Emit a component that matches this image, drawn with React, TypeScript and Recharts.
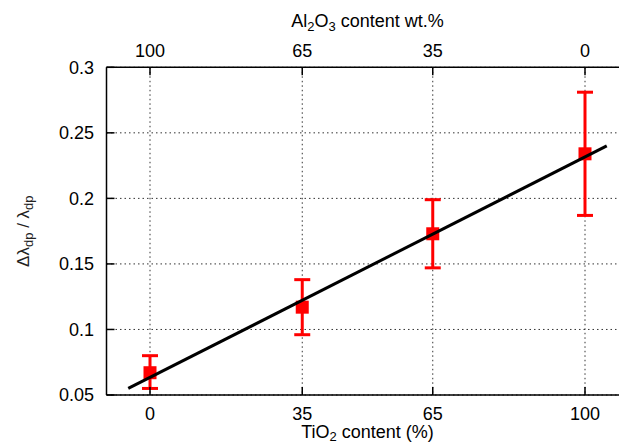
import React from "react";
import {
  ComposedChart,
  Scatter,
  ErrorBar,
  XAxis,
  YAxis,
  CartesianGrid,
} from "recharts";

// TiO2 content (%) and measured ratio with error limits
const tio2 = [0, 35, 65, 100];
const ratio = [0.067, 0.117, 0.173, 0.234];
const errLow = [0.055, 0.096, 0.147, 0.187];
const errHigh = [0.08, 0.138, 0.199, 0.281];

// linear fit end points
const fitX = [-5, 105];
const fitY = [0.055, 0.24];

const xTicks = [0, 35, 65, 100];
const topTickLabels = ["100", "65", "35", "0"];
const yTicks = [0.05, 0.1, 0.15, 0.2, 0.25, 0.3];

const points = tio2.map((x, i) => ({
  x,
  y: ratio[i],
  err: [ratio[i] - errLow[i], errHigh[i] - ratio[i]],
}));
const fit = fitX.map((x, i) => ({ x, y: fitY[i] }));

const font = "'Liberation Sans', Arial, sans-serif";
const tickStyle = { fontSize: 18, fill: "#000", fontFamily: font };

const Square = (props: any) => (
  <rect x={props.cx - 6.5} y={props.cy - 6.5} width={13} height={13} fill="#ff0000" />
);

export default function App() {
  return (
    <div style={{ position: "fixed", left: 0, top: 0, width: 619, height: 446, overflow: "hidden", background: "#fff" }}>
      <ComposedChart
        width={640}
        height={446}
        margin={{ top: 27.3, right: 11.5, bottom: 0, left: 6.5 }}
      >
        <CartesianGrid stroke="#333" strokeDasharray="1.5 3" strokeWidth={1} />
        <XAxis
          type="number"
          dataKey="x"
          domain={[-10, 110]}
          ticks={xTicks}
          height={51}
          tickSize={-8}
          tickMargin={20}
          tick={tickStyle}
          axisLine={{ stroke: "#000", strokeWidth: 1.5 }}
          tickLine={{ stroke: "#000", strokeWidth: 1.5 }}
          label={{
            content: (p: any) => (
              <text x={p.viewBox.x + p.viewBox.width / 2} y={p.viewBox.y + 43} textAnchor="middle" fontSize={18} fontFamily={font} fill="#000">
                TiO<tspan fontSize={13} dy={3}>2</tspan>
                <tspan dy={-3}> content (%)</tspan>
              </text>
            ),
          }}
        />
        <XAxis
          xAxisId="top"
          orientation="top"
          type="number"
          dataKey="x"
          domain={[-10, 110]}
          ticks={xTicks}
          tickFormatter={(v: number, i: number) => topTickLabels[i]}
          height={40}
          tickSize={-8}
          tickMargin={18.6}
          tick={tickStyle}
          axisLine={{ stroke: "#000", strokeWidth: 1.5 }}
          tickLine={{ stroke: "#000", strokeWidth: 1.5 }}
          label={{
            content: (p: any) => (
              <text x={p.viewBox.x + p.viewBox.width / 2} y={p.viewBox.y - 0.5} textAnchor="middle" fontSize={18} fontFamily={font} fill="#000">
                Al<tspan fontSize={13} dy={4}>2</tspan>
                <tspan dy={-4}>O</tspan>
                <tspan fontSize={13} dy={4}>3</tspan>
                <tspan dy={-4}> content wt.%</tspan>
              </text>
            ),
          }}
        />
        <YAxis
          type="number"
          domain={[0.05, 0.3]}
          ticks={yTicks}
          width={100}
          tickSize={-8}
          tickMargin={20.5}
          tick={tickStyle}
          axisLine={{ stroke: "#000", strokeWidth: 1.5 }}
          tickLine={{ stroke: "#000", strokeWidth: 1.5 }}
          label={{
            content: (p: any) => {
              const cx = p.viewBox.x + 23;
              const cy = p.viewBox.y + p.viewBox.height / 2;
              return (
                <text x={cx} y={cy} transform={`rotate(-90, ${cx}, ${cy})`} textAnchor="middle" fontSize={17} fontFamily={font} fill="#222">
                  Δλ<tspan fontSize={13} dy={4}>dp</tspan>
                  <tspan dy={-4}> / λ</tspan>
                  <tspan fontSize={13} dy={4}>dp</tspan>
                </text>
              );
            },
          }}
        />
        <Scatter data={points} dataKey="y" shape={<Square />} isAnimationActive={false}>
          <ErrorBar dataKey="err" direction="y" width={8} stroke="#ff0000" strokeWidth={3} />
        </Scatter>
        <Scatter
          data={fit}
          dataKey="y"
          xAxisId="top"
          line={{ stroke: "#000", strokeWidth: 3 }}
          shape={() => null}
          isAnimationActive={false}
        />
      </ComposedChart>
    </div>
  );
}
